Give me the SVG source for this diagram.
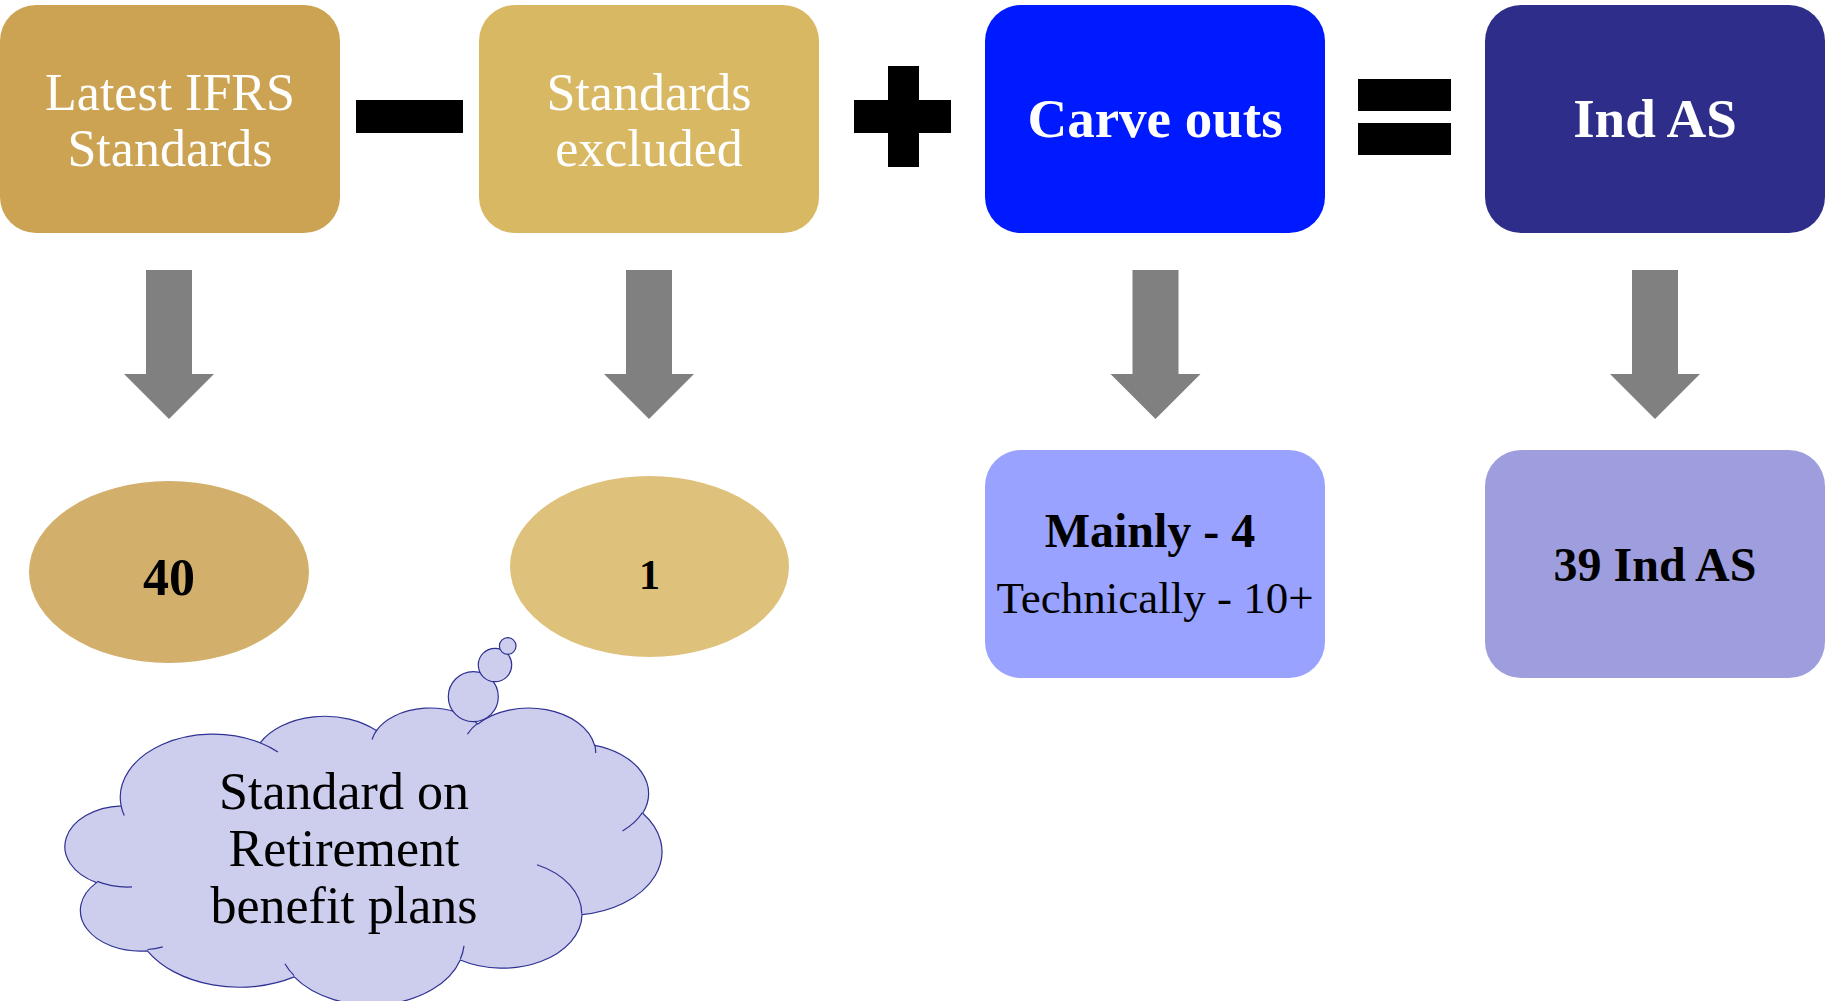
<svg xmlns="http://www.w3.org/2000/svg" width="1825" height="1001" viewBox="0 0 1825 1001">
<style>
  .t { font-family: "Liberation Serif", "Times New Roman", serif; text-anchor: middle; }
  .w { fill: #FFFFFF; }
  .k { fill: #000000; }
  .b { font-weight: bold; }
  .op { fill: #000000; }
  .arrow { fill: #808080; }
  .cloud { fill: #CDCDEE; stroke: #2E3192; stroke-width: 1.2; }
  .crease { fill: none; stroke: #2E3192; stroke-width: 1.2; }
</style>
<defs>
  <path id="downArrow" d="M-23,0 H23 V104 H45 L0,149 L-45,104 H-23 Z"/>
</defs>

<g id="node-latest-ifrs">
  <rect x="0" y="5" width="340" height="228" rx="36" ry="36" fill="#CCA353"/>
  <text class="t w" x="170" y="110" font-size="52">Latest IFRS</text>
  <text class="t w" x="170" y="166" font-size="52">Standards</text>
</g>

<g id="op-minus">
  <rect class="op" x="356" y="100" width="107" height="33"/>
</g>

<g id="node-standards-excluded">
  <rect x="479" y="5" width="340" height="228" rx="36" ry="36" fill="#D9B864"/>
  <text class="t w" x="649" y="110" font-size="52">Standards</text>
  <text class="t w" x="649" y="166" font-size="52">excluded</text>
</g>

<g id="op-plus">
  <rect class="op" x="888" y="66" width="31" height="101"/>
  <rect class="op" x="854" y="100" width="97" height="33"/>
</g>

<g id="node-carve-outs">
  <rect x="985" y="5" width="340" height="228" rx="36" ry="36" fill="#001AFF"/>
  <text class="t w b" x="1155" y="137" font-size="55">Carve outs</text>
</g>

<g id="op-equals">
  <rect class="op" x="1358" y="79" width="93" height="32"/>
  <rect class="op" x="1358" y="123" width="93" height="32"/>
</g>

<g id="node-ind-as">
  <rect x="1485" y="5" width="340" height="228" rx="36" ry="36" fill="#2E2E8A"/>
  <text class="t w b" x="1655" y="137" font-size="55">Ind AS</text>
</g>

<g id="connectors">
  <use href="#downArrow" class="arrow" x="169" y="270"/>
  <use href="#downArrow" class="arrow" x="649" y="270"/>
  <use href="#downArrow" class="arrow" x="1155.5" y="270"/>
  <use href="#downArrow" class="arrow" x="1655" y="270"/>
</g>

<g id="node-40">
  <ellipse cx="169" cy="572" rx="140" ry="91" fill="#D2AF6A"/>
  <text class="t k b" x="169" y="595" font-size="52">40</text>
</g>

<g id="node-1">
  <ellipse cx="649.5" cy="566.5" rx="139.5" ry="90.5" fill="#DEC17B"/>
  <text class="t k b" x="649.5" y="589" font-size="42">1</text>
</g>

<g id="node-mainly">
  <rect x="985" y="450" width="340" height="228" rx="36" ry="36" fill="#99A3FF"/>
  <text class="t k b" x="1150" y="547" font-size="48">Mainly - 4</text>
  <text class="t k" x="1155" y="613" font-size="45">Technically - 10+</text>
</g>

<g id="node-39-ind-as">
  <rect x="1485" y="450" width="340" height="228" rx="36" ry="36" fill="#9E9EDE"/>
  <text class="t k b" x="1655" y="581" font-size="48">39 Ind AS</text>
</g>

<g id="node-cloud">
  <path class="cloud" d="M121.12,805.78 A92.89,63.15 0 0 1 260.13,742.78 A73.36,49.94 0 0 1 376.38,730.62 A60.04,40.85 0 0 1 477.85,724.07 A66.81,45.32 0 0 1 594.57,745.34 A73.36,49.98 0 0 1 642.72,813.26 A93.20,63.36 0 0 1 582.02,914.59 A79.58,54.06 0 0 1 460.30,960.02 A92.88,63.33 0 0 1 294.20,976.87 A106.20,72.45 0 0 1 147.34,950.81 A59.98,40.67 0 0 1 96.56,882.63 A59.77,40.85 0 0 1 121.12,805.78 Z"/>
  <path class="crease" d="M132.0,886.9 A59.77,40.85 0 0 1 97.2,881.4 M162.77,946.86 A59.98,40.67 0 0 1 147.53,949.48 M294.14,975.66 A92.88,63.33 0 0 1 284.94,963.68 M464.01,945.84 A92.88,63.33 0 0 1 460.35,958.96 M536.95,864.77 A79.58,54.06 0 0 1 581.68,913.81 M642.44,812.54 A73.36,49.98 0 0 1 622.53,830.93 M594.66,744.32 A66.81,45.32 0 0 1 595.71,753.00 M467.47,734.19 A66.81,45.32 0 0 1 477.67,723.11 M372.04,739.47 A60.04,40.85 0 0 1 376.98,729.92 M260.05,742.71 A92.89,63.15 0 0 1 277.92,751.97 M124.24,815.53 A92.89,63.15 0 0 1 121.12,805.78"/>
  <circle class="cloud" cx="473.3" cy="696.7" r="25"/>
  <circle class="cloud" cx="495" cy="665" r="16.7"/>
  <circle class="cloud" cx="507.7" cy="646" r="8.3"/>
  <text class="t k" x="344" y="809" font-size="52">Standard on</text>
  <text class="t k" x="344" y="866" font-size="52">Retirement</text>
  <text class="t k" x="344" y="923" font-size="52">benefit plans</text>
</g>
</svg>
